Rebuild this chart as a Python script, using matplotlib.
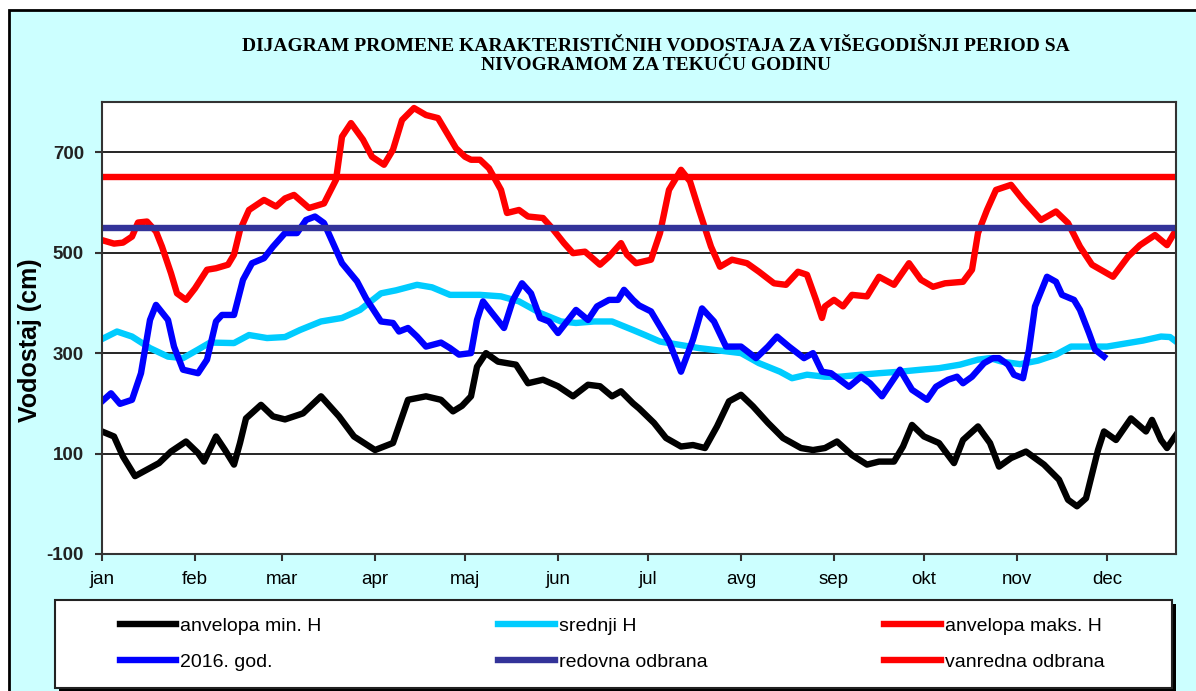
import matplotlib
matplotlib.use("Agg")
import matplotlib.pyplot as plt
from matplotlib.patches import Rectangle

# day of year (0 = 1 jan) and water level in cm
min_days = [0, 4, 7, 11, 15, 19, 23, 28, 32, 34, 38, 41, 44, 46, 48, 53, 57, 61, 67, 73, 79, 84,
            91, 97, 102, 108, 113, 117, 120, 123, 125, 128, 132, 138, 142, 147, 152, 157, 162, 166,
            170, 173, 177, 179, 184, 188, 193, 197, 201, 205, 209, 213, 217, 222, 227, 233, 237,
            241, 245, 250, 255, 259, 264, 267, 270, 274, 279, 284, 287, 292, 296, 299, 303, 308,
            314, 319, 322, 325, 328, 332, 334, 338, 343, 348, 350, 353, 355, 358]
min_h = [144, 134, 94, 55, 68, 81, 104, 124, 101, 84, 134, 107, 78, 121, 170, 197, 174, 168, 180,
         214, 174, 134, 107, 121, 207, 214, 207, 184, 195, 214, 273, 300, 283, 277, 240, 247, 234,
         214, 237, 234, 214, 224, 200, 190, 161, 131, 114, 117, 111, 154, 204, 217, 194, 161, 131,
         111, 107, 111, 124, 97, 78, 84, 84, 114, 157, 134, 121, 81, 127, 154, 121, 74, 91, 104,
         78, 48, 8, -5, 11, 107, 144, 127, 170, 144, 167, 127, 111, 137]

mean_days = [0, 5, 10, 16, 22, 27, 32, 36, 44, 49, 55, 61, 66, 73, 80, 86, 93, 98, 105, 110, 116,
             121, 126, 133, 139, 146, 153, 158, 164, 170, 177, 181, 186, 193, 199, 206, 213, 219,
             226, 230, 235, 241, 246, 253, 259, 266, 273, 279, 286, 292, 296, 300, 306, 312, 318,
             323, 335, 347, 353, 356, 358]
mean_h = [328, 343, 333, 310, 293, 290, 307, 321, 320, 336, 330, 332, 346, 363, 370, 386, 419, 425,
          436, 431, 416, 416, 416, 413, 403, 380, 363, 360, 363, 363, 346, 336, 323, 316, 310, 305,
          300, 280, 263, 250, 257, 253, 253, 257, 260, 263, 267, 270, 277, 287, 290, 283, 278, 285,
          297, 313, 313, 325, 333, 332, 323]

max_days = [0, 4, 7, 10, 12, 15, 18, 20, 23, 25, 28, 31, 35, 38, 42, 44, 46, 49, 54, 58, 61, 64,
            69, 74, 78, 80, 83, 87, 90, 94, 97, 100, 104, 108, 112, 115, 118, 121, 123, 126, 129,
            133, 135, 139, 142, 147, 150, 154, 157, 161, 166, 169, 173, 175, 178, 183, 186, 189,
            193, 196, 199, 203, 206, 210, 215, 219, 224, 228, 232, 235, 238, 240, 241, 244, 247,
            250, 255, 259, 264, 269, 273, 277, 281, 287, 290, 292, 295, 298, 303, 307, 313, 318,
            322, 326, 330, 337, 342, 346, 351, 355, 358]
max_h = [525, 518, 520, 532, 560, 562, 542, 512, 459, 419, 406, 429, 466, 469, 476, 496, 545, 585,
         605, 592, 608, 615, 589, 598, 645, 731, 758, 725, 691, 675, 705, 764, 788, 774, 768, 738,
         708, 691, 685, 685, 668, 625, 579, 585, 572, 569, 549, 519, 499, 502, 476, 492, 519, 496,
         479, 486, 539, 625, 665, 642, 585, 512, 472, 486, 479, 462, 439, 436, 462, 456, 406, 370,
         393, 406, 393, 416, 413, 452, 436, 479, 446, 432, 439, 442, 466, 539, 585, 625, 635, 605,
         565, 582, 559, 512, 476, 452, 492, 515, 535, 515, 545]

cur_days = [0, 3, 6, 10, 13, 16, 18, 22, 24, 27, 32, 35, 38, 40, 44, 47, 50, 54, 57, 61, 65, 68,
            71, 74, 77, 80, 85, 88, 93, 97, 99, 102, 105, 108, 113, 116, 119, 123, 125, 127, 130,
            134, 137, 140, 143, 146, 149, 152, 155, 158, 162, 165, 169, 172, 174, 177, 179, 183,
            186, 189, 193, 197, 200, 204, 208, 213, 218, 222, 225, 229, 234, 237, 240, 243, 249,
            253, 256, 260, 266, 270, 275, 278, 282, 285, 287, 290, 294, 297, 299, 302, 304, 307,
            309, 311, 315, 318, 320, 324, 326, 329, 331, 334]
cur_h = [204, 220, 199, 207, 260, 366, 396, 366, 313, 267, 260, 287, 363, 376, 376, 446, 479, 489,
         512, 539, 539, 565, 572, 559, 519, 479, 443, 409, 363, 360, 343, 350, 333, 313, 321, 310,
         297, 300, 366, 403, 380, 350, 406, 439, 419, 370, 363, 340, 363, 386, 366, 393, 406, 406,
         426, 406, 395, 383, 353, 323, 263, 327, 389, 363, 313, 313, 290, 313, 333, 313, 290, 300,
         263, 260, 233, 253, 240, 214, 267, 227, 207, 233, 247, 253, 240, 253, 280, 290, 290, 277,
         257, 250, 307, 393, 452, 442, 416, 406, 386, 340, 307, 293]

regular_defence = 550
emergency_defence = 650

month_days = [0, 31, 60, 91, 121, 152, 182, 213, 244, 274, 305, 335]
month_names = ["jan", "feb", "mar", "apr", "maj", "jun", "jul", "avg", "sep", "okt", "nov", "dec"]

plt.rcParams["font.family"] = ["Liberation Sans", "DejaVu Sans"]
plt.rcParams["axes.unicode_minus"] = False

W, H = 1196, 691
fig = plt.figure(figsize=(W / 100, H / 100), dpi=100, facecolor="white")

# cyan chart area with black frame
fig.patches.append(Rectangle((9 / W, -0.01), 1.02, (H - 10) / H + 0.01, transform=fig.transFigure,
                             facecolor="#ccffff", edgecolor="black", lw=2, zorder=-10))

ax = fig.add_axes([102 / W, (H - 554) / H, (1176 - 102) / W, (554 - 102) / H])
ax.set_facecolor("white")

lw = 4.6
l1, = ax.plot(min_days, min_h, color="black", lw=lw, solid_joinstyle="round", label="anvelopa min. H")
l2, = ax.plot(mean_days, mean_h, color="#00ccff", lw=lw, solid_joinstyle="round", label="srednji H")
l3, = ax.plot(max_days, max_h, color="#ff0000", lw=lw, solid_joinstyle="round", label="anvelopa maks. H")
l4, = ax.plot(cur_days, cur_h, color="#0000ff", lw=lw, solid_joinstyle="round", label="2016. god.")
l5 = ax.axhline(regular_defence, color="#333399", lw=lw, label="redovna odbrana")
l6 = ax.axhline(emergency_defence, color="#ff0000", lw=lw, label="vanredna odbrana")

ax.set_xlim(0, 358)
ax.set_ylim(-100, 800)
ax.set_yticks([-100, 100, 300, 500, 700])
ax.set_xticks(month_days)
ax.set_xticklabels(month_names)
ax.grid(axis="y", color="black", lw=1.2)
ax.set_axisbelow(True)
for s in ax.spines.values():
    s.set_color("#333333")
    s.set_linewidth(1.5)
ax.tick_params(axis="x", direction="out", length=5, width=1.5, color="#333333",
               labelsize=13.5, pad=7)
ax.tick_params(axis="y", direction="out", length=5, width=1.5, color="#333333",
               labelsize=13.5, pad=8)
for t in ax.get_yticklabels():
    t.set_fontweight("bold")
    t.set_color("#222222")

ax.set_ylabel("Vodostaj (cm)", fontsize=18, fontweight="bold")
ax.yaxis.set_label_coords(-0.056, 0.473)

fig.text(656 / W, 1 - 56 / H,
         "DIJAGRAM PROMENE KARAKTERISTIČNIH VODOSTAJA ZA VIŠEGODIŠNJI PERIOD SA\n"
         "NIVOGRAMOM ZA TEKUĆU GODINU",
         ha="center", va="center", family="Liberation Serif", fontweight="bold",
         fontsize=14, linespacing=1.1)

# legend box with shadow
fig.patches.append(Rectangle((59 / W, (H - 692) / H), (1172 - 55) / W, 88 / H,
                             transform=fig.transFigure, facecolor="black", edgecolor="none", zorder=1))
fig.patches.append(Rectangle((55 / W, (H - 688) / H), (1172 - 55) / W, 88 / H,
                             transform=fig.transFigure, facecolor="white", edgecolor="#222222",
                             lw=1.5, zorder=2))

fig.legend(handles=[l1, l4, l2, l5, l3, l6], ncol=3, loc="center",
           bbox_to_anchor=(612 / W, 1 - 644 / H), frameon=False, fontsize=14,
           handlelength=2.9, handletextpad=0.2, columnspacing=9.1, labelspacing=0.95)

fig.savefig("out.png", dpi=100, facecolor=fig.get_facecolor())
